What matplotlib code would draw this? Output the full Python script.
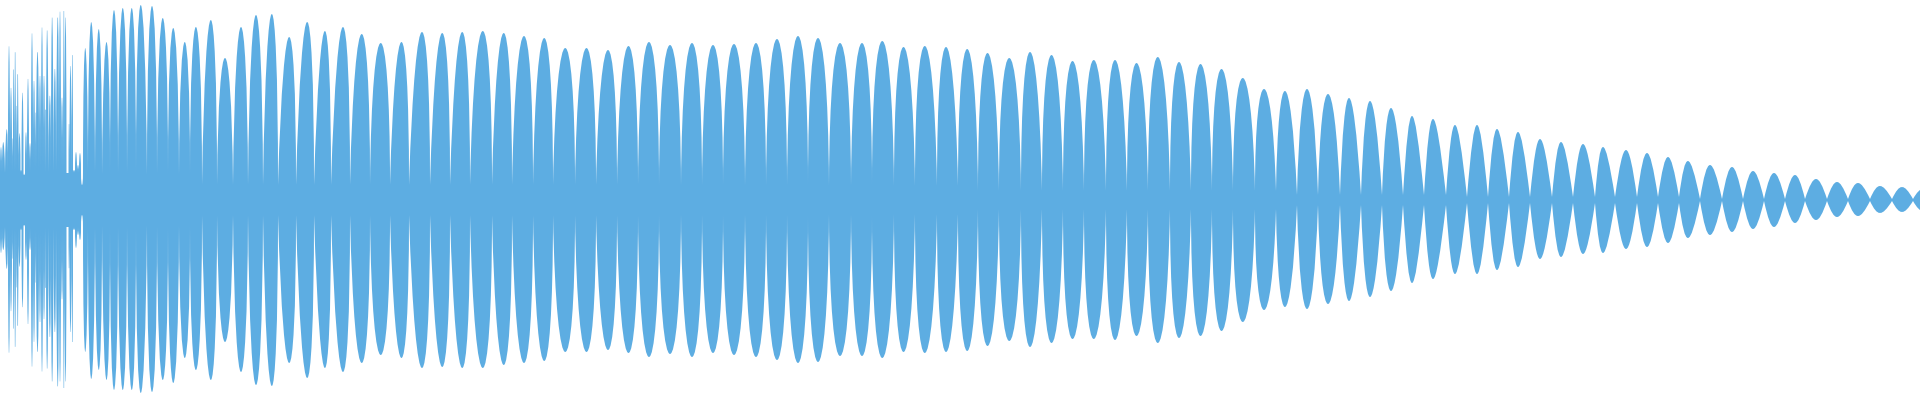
import matplotlib
matplotlib.use("Agg")
import matplotlib.pyplot as plt
from matplotlib.path import Path
from matplotlib.patches import PathPatch

# waveform: one entry per lobe (the "bumps" of the envelope)
# necks = lobe boundaries, peak_x = where the lobe peaks, top/bottom = peak amplitude
necks = [0, 2, 5, 8, 10, 12, 13, 14.5, 16, 17, 18.5, 20.5, 21.5, 23.5, 25, 27, 29, 31, 33, 35,
         36, 39, 41, 43, 45, 46, 48.5, 51, 53.5, 56, 59, 61, 63, 64.5, 66.5, 68.5, 69.5, 71.5,
         73, 75, 77, 79, 81, 83, 88, 95, 102,
         110, 118, 127, 136, 147, 157, 168, 179, 190, 202, 217, 233, 248, 263, 278, 296, 314, 331,
         350, 370, 390, 409, 430, 450, 470, 492, 512, 533, 553, 575, 596, 617, 638,
         659, 681, 702, 723, 745, 766, 787, 808, 829, 851, 872, 894, 915, 937, 958,
         978, 999, 1021, 1042, 1063, 1084, 1106, 1127, 1148, 1170, 1191, 1212, 1233, 1255, 1276,
         1297, 1318, 1340, 1361, 1382, 1403, 1424, 1446, 1467, 1488, 1509, 1530, 1552, 1573, 1595,
         1615, 1637, 1658, 1679, 1700, 1722, 1743, 1764, 1785, 1805, 1827, 1848, 1870, 1892, 1913, 1934]

peak_x = [1, 3, 7, 9, 11, 12.5, 13.5, 15, 16.5, 17.7, 19.5, 21, 22.5, 24, 26, 28, 30, 32, 34,
          35.5, 37.5, 40, 42, 44, 45.7, 47, 50, 52, 55, 58, 60, 62, 64, 65.5, 67.5, 69, 70.5,
          72.5, 74, 76, 78, 80, 82, 85, 91, 99,
          107, 114, 123, 132, 140, 152, 163, 173, 185, 196, 211, 225, 241, 256, 272, 290, 308, 326,
          345, 363, 381, 403, 424, 444, 464, 484, 505, 525, 545, 566, 587, 609, 629,
          649, 670, 692, 713, 734, 756, 777, 798, 818, 840, 862, 882, 903, 924, 945,
          967, 987, 1009, 1029, 1051, 1072, 1093, 1114, 1136, 1157, 1178, 1200, 1221, 1242, 1263,
          1285, 1307, 1328, 1349, 1370, 1391, 1412, 1433, 1455, 1477, 1497, 1518, 1540, 1561, 1583,
          1603, 1626, 1647, 1668, 1688, 1710, 1732, 1753, 1774, 1795, 1816, 1837, 1858, 1880, 1902, 1923]

top = [53, 58, 71, 155, 113, 63, 135, 153, 97, 130, 67, 30, 108, 25, 68, 122, 57, 168, 120,
       90, 149, 125, 174, 125, 103, 171, 105, 184, 132, 184, 190, 103, 196, 184, 27, 78, 135,
       150, 30, 48, 35, 47, 15, 152, 178, 171,
       158, 190, 192, 192, 195, 194, 182, 172, 158, 173, 180, 142, 173, 185, 186, 163, 178, 169,
       173, 166, 157, 158, 168, 167, 168, 169, 167, 164, 162, 152, 152, 150, 154,
       158, 155, 157, 155, 156, 157, 161, 164, 162, 157, 157, 159, 153, 154, 153,
       151, 147, 142, 148, 145, 139, 140, 140, 137, 143, 138, 136, 131, 122, 111,
       109, 111, 106, 102, 99, 92, 84, 81, 75, 75, 71, 68, 61, 58, 56,
       53, 50, 47, 43, 39, 35, 33, 29, 27, 25, 21, 18, 17, 14, 13, 11]

bottom = [53, 50, 69, 154, 112, 60, 133, 152, 90, 130, 67, 30, 108, 25, 60, 125, 50, 168, 143,
          85, 153, 123, 173, 120, 100, 170, 138, 183, 133, 188, 183, 100, 195, 183, 27, 70, 133,
          147, 30, 48, 35, 40, 15, 152, 179, 170,
          180, 190, 190, 190, 193, 192, 180, 183, 158, 170, 180, 142, 172, 185, 186, 163, 178, 168,
          172, 163, 155, 158, 168, 167, 168, 168, 165, 163, 161, 152, 152, 150, 153,
          157, 154, 157, 153, 155, 157, 160, 163, 162, 156, 156, 158, 152, 153, 152,
          151, 146, 141, 147, 143, 139, 139, 140, 136, 143, 138, 136, 131, 122, 110,
          107, 109, 104, 101, 97, 91, 83, 79, 74, 74, 70, 67, 59, 57, 54,
          53, 49, 47, 43, 38, 35, 32, 29, 27, 23, 20, 17, 16, 13, 12, 11]

# thickness of the solid centre band at the necks, by stretch of the track
band_start = [0, 102, 200, 330, 640, 960, 1280, 1450, 1700]
band_amp = [27, 25, 15, 15, 14, 9, 5, 3, 1]

# how pointed the lobes are, by stretch (0 = round and full, 0.42 = plain sine lobe)
shape_start = [0, 200, 330, 1270, 1340, 1400]
shape_k = [0.0, 0.1, 0.03, 0.2, 0.3, 0.4]

wave_color = "#5DADE2"


def by_stretch(x, starts, values):
    v = values[0]
    for s, val in zip(starts, values):
        if x >= s:
            v = val
    return v


fig = plt.figure(figsize=(19.2, 4), dpi=100)
ax = fig.add_axes([0, 0, 1, 1])

verts, codes = [], []
for i in range(len(peak_x)):
    n0, n1 = necks[i], necks[i + 1]
    b0 = by_stretch(n0, band_start, band_amp)
    b1 = by_stretch(n1, band_start, band_amp)
    k = by_stretch(peak_x[i], shape_start, shape_k)
    w = n1 - n0
    mid = 0.5 * (n0 + n1)
    # slide both handles to put the peak where it was read
    s = (peak_x[i] - mid) * 4 / 3
    c0x = min(max(n0 + k * w + s, n0), n1)
    c1x = min(max(n1 - k * w + s, n0), n1)
    b = 0.5 * (b0 + b1)
    hy_top = (4 * top[i] - b) / 3
    hy_bot = (4 * bottom[i] - b) / 3
    verts += [(n0, b0), (c0x, hy_top), (c1x, hy_top), (n1, b1),
              (n1, -b1), (c1x, -hy_bot), (c0x, -hy_bot), (n0, -b0), (n0, b0)]
    codes += [Path.MOVETO, Path.CURVE4, Path.CURVE4, Path.CURVE4, Path.LINETO,
              Path.CURVE4, Path.CURVE4, Path.CURVE4, Path.CLOSEPOLY]

ax.add_patch(PathPatch(Path(verts, codes), facecolor=wave_color, edgecolor="none"))

ax.set_xlim(0, 1920)
ax.set_ylim(-200, 200)
ax.axis("off")

fig.savefig("out.png", dpi=100, facecolor="white")
